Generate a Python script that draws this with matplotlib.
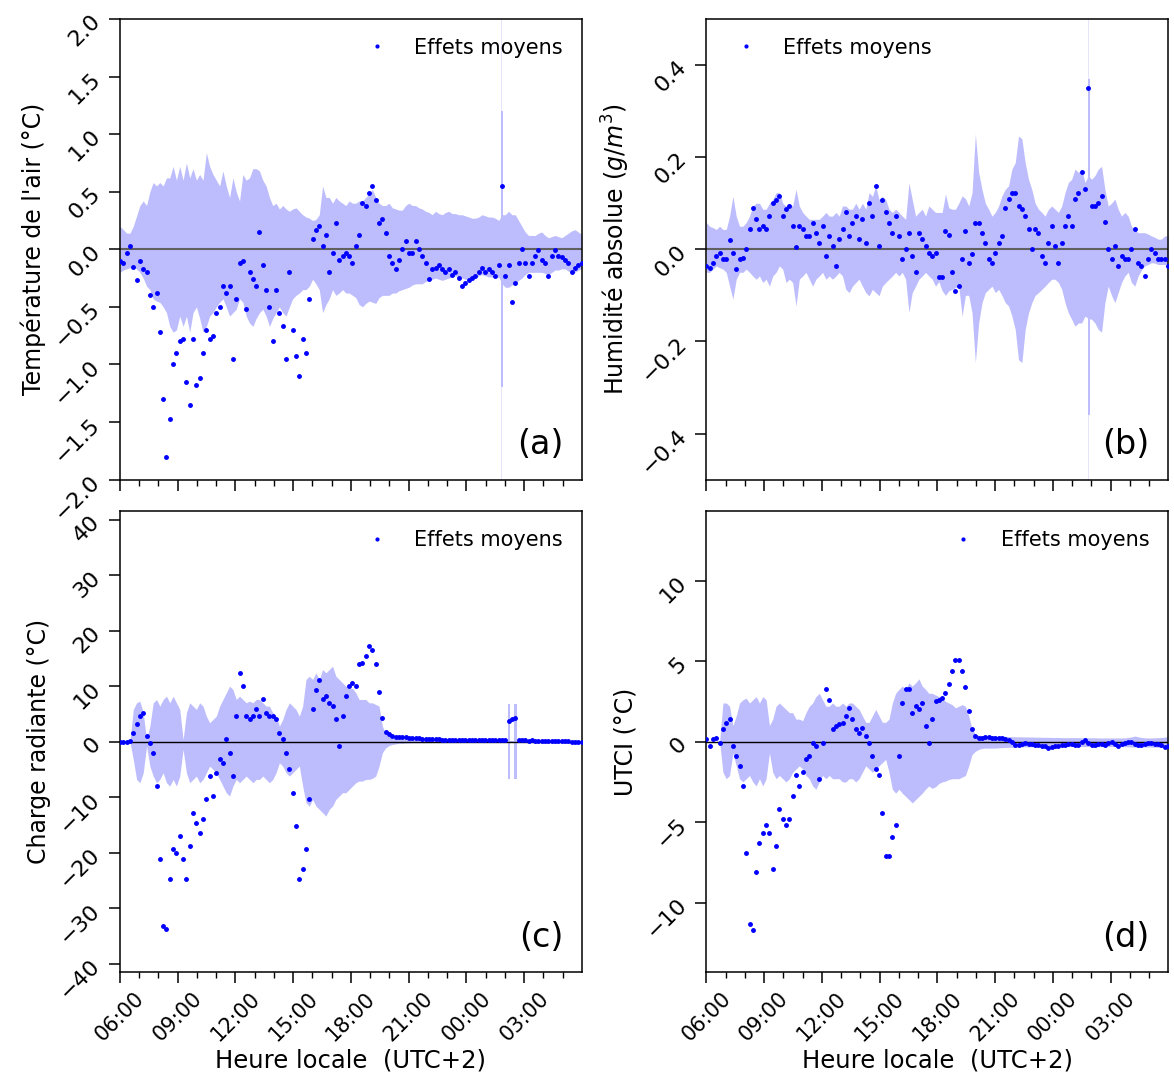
import matplotlib
matplotlib.use("Agg")
import matplotlib.pyplot as plt
import matplotlib.dates as mdates
import pandas as pd

# mean effect + confidence band, 140 samples from 06:00 to 05:59 next day
times = pd.date_range("2020-07-01 06:00", "2020-07-02 05:59", periods=140)

# (a) air temperature (°C)
air_mean = [-0.10, -0.12, -0.03, 0.03, -0.15, -0.27, -0.10, -0.17, -0.20, -0.40,
            -0.50, -0.38, -0.72, -1.30, -1.80, -1.47, -1.00, -0.90, -0.80, -0.78,
            -1.15, -1.35, -0.78, -1.18, -1.12, -0.90, -0.70, -0.78, -0.75, -0.55,
            -0.50, -0.32, -0.38, -0.32, -0.95, -0.43, -0.12, -0.10, -0.52, -0.20,
            -0.26, -0.32, 0.15, -0.14, -0.35, -0.50, -0.80, -0.35, -0.55, -0.67,
            -0.95, -0.20, -0.70, -0.93, -1.10, -0.78, -0.90, -0.43, 0.09, 0.17,
            0.20, 0.03, 0.12, -0.20, -0.03, 0.23, -0.09, -0.06, -0.03, -0.06,
            -0.12, 0.03, 0.12, 0.40, 0.38, 0.49, 0.55, 0.43, 0.23, 0.26,
            0.14, -0.06, -0.12, -0.17, -0.09, 0.00, 0.07, -0.03, -0.03, 0.07,
            0.00, -0.06, -0.12, -0.26, -0.17, -0.16, -0.14, -0.17, -0.20, -0.17,
            -0.22, -0.20, -0.25, -0.32, -0.29, -0.27, -0.25, -0.23, -0.20, -0.16,
            -0.20, -0.17, -0.20, -0.23, -0.14, 0.55, -0.23, -0.14, -0.46, -0.29,
            -0.12, 0.00, -0.12, -0.23, -0.12, -0.06, -0.01, -0.09, -0.12, -0.23,
            -0.06, -0.01, -0.06, -0.07, -0.09, -0.12, -0.20, -0.16, -0.14, -0.12]
air_hi = [0.20, 0.17, 0.14, 0.14, 0.20, 0.29, 0.38, 0.42, 0.38, 0.50,
          0.58, 0.55, 0.58, 0.55, 0.62, 0.62, 0.72, 0.60, 0.72, 0.60,
          0.75, 0.62, 0.70, 0.60, 0.65, 0.60, 0.84, 0.72, 0.65, 0.60,
          0.55, 0.68, 0.55, 0.45, 0.62, 0.50, 0.42, 0.65, 0.60, 0.62,
          0.70, 0.70, 0.68, 0.60, 0.55, 0.45, 0.38, 0.40, 0.35, 0.38,
          0.35, 0.33, 0.35, 0.36, 0.33, 0.30, 0.28, 0.27, 0.25, 0.26,
          0.30, 0.55, 0.45, 0.45, 0.40, 0.45, 0.42, 0.40, 0.38, 0.42,
          0.40, 0.40, 0.42, 0.42, 0.45, 0.48, 0.52, 0.45, 0.40, 0.38,
          0.38, 0.40, 0.36, 0.35, 0.34, 0.34, 0.38, 0.40, 0.38, 0.38,
          0.36, 0.35, 0.33, 0.32, 0.30, 0.33, 0.31, 0.30, 0.32, 0.33,
          0.31, 0.31, 0.30, 0.30, 0.29, 0.28, 0.27, 0.27, 0.28, 0.30,
          0.29, 0.28, 0.28, 0.27, 0.25, 0.30, 0.30, 0.33, 0.30, 0.30,
          0.25, 0.20, 0.15, 0.12, 0.12, 0.12, 0.14, 0.15, 0.12, 0.10,
          0.11, 0.12, 0.11, 0.10, 0.12, 0.14, 0.16, 0.17, 0.15, 0.13]
air_lo = [-0.20, -0.18, -0.17, -0.16, -0.15, -0.17, -0.20, -0.25, -0.32, -0.35,
          -0.43, -0.45, -0.46, -0.50, -0.55, -0.67, -0.72, -0.70, -0.58, -0.67,
          -0.58, -0.72, -0.55, -0.50, -0.60, -0.72, -0.67, -0.58, -0.55, -0.50,
          -0.46, -0.43, -0.50, -0.58, -0.55, -0.52, -0.43, -0.46, -0.58, -0.64,
          -0.67, -0.60, -0.55, -0.52, -0.58, -0.67, -0.60, -0.55, -0.50, -0.55,
          -0.58, -0.50, -0.43, -0.40, -0.38, -0.35, -0.35, -0.32, -0.26, -0.30,
          -0.35, -0.55, -0.48, -0.43, -0.35, -0.40, -0.38, -0.35, -0.38, -0.38,
          -0.40, -0.42, -0.48, -0.50, -0.47, -0.45, -0.46, -0.47, -0.42, -0.40,
          -0.40, -0.40, -0.38, -0.38, -0.36, -0.35, -0.34, -0.33, -0.31, -0.30,
          -0.30, -0.30, -0.28, -0.27, -0.26, -0.25, -0.26, -0.27, -0.26, -0.25,
          -0.24, -0.23, -0.24, -0.25, -0.26, -0.26, -0.25, -0.25, -0.23, -0.22,
          -0.23, -0.24, -0.24, -0.25, -0.24, -0.30, -0.33, -0.33, -0.31, -0.30,
          -0.27, -0.25, -0.22, -0.20, -0.20, -0.20, -0.20, -0.20, -0.21, -0.22,
          -0.20, -0.18, -0.18, -0.17, -0.17, -0.19, -0.20, -0.20, -0.18, -0.17]

# (b) absolute humidity (g/m3)
hum_mean = [-0.036, -0.04, -0.03, -0.015, -0.007, -0.02, -0.02, 0.02, -0.007, -0.043,
            -0.02, -0.018, 0.0, 0.043, 0.09, 0.065, 0.043, 0.05, 0.043, 0.072,
            0.1, 0.108, 0.115, 0.072, 0.087, 0.094, 0.05, 0.004, 0.05, 0.043,
            0.029, 0.029, 0.058, 0.036, 0.014, 0.05, -0.015, 0.029, 0.007, -0.036,
            0.022, 0.043, 0.08, 0.029, 0.058, 0.072, 0.022, 0.065, 0.014, 0.1,
            0.072, 0.137, 0.007, 0.108, 0.08, 0.058, 0.036, 0.072, 0.029, -0.02,
            0.0, 0.036, -0.015, -0.05, 0.036, 0.022, 0.007, -0.007, -0.015, -0.007,
            -0.06, -0.06, 0.04, 0.03, -0.05, -0.09, -0.08, -0.02, 0.04, -0.03,
            -0.01, 0.058, 0.058, 0.036, 0.014, -0.022, -0.029, -0.007, 0.014, 0.029,
            0.09, 0.109, 0.123, 0.123, 0.094, 0.087, 0.072, 0.043, 0.0, 0.043,
            0.036, -0.014, -0.029, 0.014, 0.05, 0.007, -0.029, 0.014, 0.05, 0.072,
            0.05, 0.109, 0.123, 0.167, 0.13, 0.35, 0.094, 0.094, 0.1, 0.116,
            0.06, 0.0, -0.022, 0.007, -0.036, -0.014, -0.022, -0.022, 0.0, 0.043,
            -0.029, -0.036, -0.058, -0.022, 0.0, -0.007, -0.022, -0.022, -0.022, -0.036]
hum_hi = [0.058, 0.05, 0.047, 0.043, 0.05, 0.043, 0.043, 0.072, 0.115, 0.072,
          0.05, 0.05, 0.058, 0.072, 0.094, 0.1, 0.1, 0.087, 0.087, 0.1,
          0.108, 0.123, 0.123, 0.1, 0.094, 0.1, 0.094, 0.13, 0.094, 0.08,
          0.072, 0.065, 0.065, 0.065, 0.065, 0.072, 0.08, 0.072, 0.072, 0.08,
          0.072, 0.094, 0.094, 0.087, 0.087, 0.1, 0.087, 0.1, 0.087, 0.123,
          0.115, 0.137, 0.108, 0.115, 0.108, 0.087, 0.08, 0.087, 0.08, 0.072,
          0.065, 0.144, 0.108, 0.072, 0.08, 0.087, 0.072, 0.094, 0.087, 0.08,
          0.08, 0.08, 0.12, 0.09, 0.087, 0.087, 0.1, 0.116, 0.11, 0.094,
          0.123, 0.25, 0.167, 0.13, 0.1, 0.087, 0.072, 0.08, 0.094, 0.116,
          0.13, 0.138, 0.174, 0.188, 0.246, 0.24, 0.188, 0.152, 0.13, 0.1,
          0.087, 0.08, 0.072, 0.087, 0.094, 0.087, 0.08, 0.094, 0.123, 0.145,
          0.152, 0.174, 0.167, 0.174, 0.145, 0.16, 0.152, 0.16, 0.174, 0.18,
          0.13, 0.094, 0.1, 0.109, 0.087, 0.072, 0.08, 0.072, 0.05, 0.043,
          0.036, 0.036, 0.036, 0.033, 0.029, 0.026, 0.022, 0.022, 0.029, 0.029]
hum_lo = [-0.05, -0.05, -0.043, -0.036, -0.04, -0.043, -0.05, -0.08, -0.108, -0.065,
          -0.05, -0.05, -0.043, -0.05, -0.058, -0.065, -0.058, -0.072, -0.065, -0.08,
          -0.058, -0.05, -0.036, -0.043, -0.072, -0.065, -0.072, -0.123, -0.065, -0.058,
          -0.05, -0.065, -0.08, -0.065, -0.058, -0.05, -0.065, -0.058, -0.065, -0.058,
          -0.05, -0.058, -0.087, -0.094, -0.08, -0.072, -0.065, -0.08, -0.094, -0.101,
          -0.087, -0.094, -0.101, -0.08, -0.072, -0.065, -0.058, -0.05, -0.058, -0.05,
          -0.065, -0.137, -0.094, -0.08, -0.065, -0.058, -0.05, -0.058, -0.065, -0.08,
          -0.07, -0.09, -0.1, -0.09, -0.087, -0.083, -0.08, -0.145, -0.1, -0.1,
          -0.138, -0.246, -0.16, -0.116, -0.094, -0.087, -0.08, -0.094, -0.087, -0.1,
          -0.116, -0.123, -0.145, -0.174, -0.24, -0.246, -0.174, -0.138, -0.116, -0.1,
          -0.094, -0.087, -0.08, -0.072, -0.065, -0.065, -0.072, -0.087, -0.116, -0.138,
          -0.152, -0.167, -0.16, -0.16, -0.145, -0.15, -0.152, -0.16, -0.174, -0.18,
          -0.116, -0.08, -0.1, -0.116, -0.094, -0.072, -0.058, -0.05, -0.072, -0.08,
          -0.058, -0.045, -0.036, -0.033, -0.029, -0.03, -0.033, -0.033, -0.033, -0.033]

# (c) radiant load (°C)
rad_mean = [0.0, 0.0, 0.0, 0.1, 1.6, 3.1, 4.6, 5.2, 1.0, -0.2,
            -2.0, -8.0, -21.2, -33.2, -33.8, -24.8, -19.4, -20.0, -17.0, -21.2,
            -24.8, -18.8, -12.8, -14.6, -16.4, -14.0, -10.4, -6.2, -9.8, -5.6,
            -3.2, -3.8, 0.4, -2.0, -6.2, 4.6, 12.4, 10.0, 4.6, 4.0,
            4.6, 5.8, 4.6, 7.6, 5.2, 4.6, 4.6, 4.0, 1.6, 0.4,
            -2.0, -5.0, -9.2, -15.2, -24.8, -23.0, -19.4, -10.4, 5.8, 9.4,
            11.2, 7.6, 8.2, 7.0, 6.4, 4.0, -0.8, 4.6, 8.2, 10.0,
            10.6, 10.0, 14.0, 14.2, 15.4, 17.2, 16.6, 14.0, 9.0, 4.2,
            1.8, 1.3, 1.0, 0.9, 0.9, 0.8, 0.8, 0.75, 0.7, 0.7,
            0.6, 0.55, 0.5, 0.45, 0.45, 0.4, 0.4, 0.38, 0.36, 0.34,
            0.3, 0.28, 0.3, 0.26, 0.25, 0.3, 0.28, 0.25, 0.28, 0.3,
            0.33, 0.3, 0.28, 0.27, 0.35, 0.3, 0.28, 3.8, 4.0, 4.2,
            0.25, 0.25, 0.22, 0.2, 0.25, 0.2, 0.18, 0.2, 0.2, 0.2,
            0.2, 0.15, 0.2, 0.15, 0.1, 0.05, 0.0, -0.1, -0.15, -0.15]
rad_hi = [0.0, 0.0, 0.0, 0.0, 5.8, 7.0, 7.3, 5.2, 0.4, 2.8,
          7.0, 7.6, 6.4, 7.6, 8.2, 7.0, 8.2, 7.0, 5.8, 0.4,
          5.2, 7.0, 6.4, 5.8, 7.0, 6.4, 4.6, 3.4, 4.0, 4.6,
          6.4, 7.6, 8.8, 10.0, 9.4, 7.6, 8.2, 7.6, 7.0, 7.3,
          7.0, 7.6, 7.6, 7.0, 6.4, 6.4, 5.2, 4.6, 2.8, 4.0,
          5.8, 7.0, 6.4, 5.8, 4.6, 6.4, 11.2, 11.8, 11.2, 12.4,
          11.2, 13.0, 12.4, 13.0, 13.6, 11.8, 11.2, 10.6, 10.0, 9.6,
          9.6, 8.8, 7.6, 7.6, 7.6, 7.0, 7.0, 6.7, 6.4, 2.8,
          1.3, 1.0, 0.7, 0.6, 0.5, 0.5, 0.45, 0.4, 0.38, 0.35,
          0.35, 0.33, 0.32, 0.3, 0.3, 0.3, 0.28, 0.28, 0.27, 0.27,
          0.26, 0.26, 0.25, 0.25, 0.25, 0.25, 0.24, 0.24, 0.24, 0.24,
          0.23, 0.23, 0.23, 0.22, 0.22, 0.22, 0.22, 0.22, 0.21, 0.21,
          0.21, 0.2, 0.2, 0.2, 0.2, 0.2, 0.19, 0.19, 0.19, 0.18,
          0.18, 0.18, 0.17, 0.17, 0.16, 0.16, 0.15, 0.15, 0.14, 0.14]
rad_lo = [0.0, 0.0, 0.0, 0.0, -3.2, -6.8, -7.4, -5.6, -0.8, -4.4,
          -6.2, -7.4, -6.8, -5.6, -7.4, -8.0, -6.8, -8.0, -6.2, -1.4,
          -5.6, -7.4, -6.8, -6.2, -7.4, -6.8, -5.6, -4.4, -5.0, -5.6,
          -6.8, -8.0, -9.2, -9.8, -8.0, -6.8, -7.4, -6.8, -6.2, -6.8,
          -7.4, -6.8, -6.8, -6.2, -6.8, -7.4, -6.8, -5.6, -3.8, -4.4,
          -5.6, -6.2, -5.6, -5.0, -4.4, -8.0, -11.0, -11.6, -10.4, -11.6,
          -12.2, -12.8, -13.4, -12.2, -11.6, -10.4, -9.8, -9.2, -9.2, -8.6,
          -8.0, -7.4, -7.1, -7.1, -6.8, -6.8, -6.6, -6.2, -4.4, -2.0,
          -1.1, -0.7, -0.5, -0.4, -0.3, -0.3, -0.25, -0.22, -0.2, -0.2,
          -0.2, -0.19, -0.19, -0.18, -0.18, -0.18, -0.17, -0.17, -0.17, -0.16,
          -0.16, -0.16, -0.16, -0.15, -0.15, -0.15, -0.15, -0.15, -0.14, -0.14,
          -0.14, -0.14, -0.14, -0.14, -0.13, -0.13, -0.13, -0.13, -0.13, -0.13,
          -0.13, -0.12, -0.12, -0.12, -0.12, -0.12, -0.12, -0.12, -0.12, -0.13,
          -0.13, -0.13, -0.14, -0.15, -0.16, -0.18, -0.2, -0.25, -0.28, -0.3]

# (d) UTCI (°C)
utci_mean = [0.15, -0.27, 0.15, 0.25, -0.06, 0.77, 1.18, 1.39, -0.27, -0.9,
             -1.5, -2.75, -6.9, -11.3, -11.7, -8.1, -6.3, -5.65, -5.2, -5.65,
             -7.9, -6.5, -4.2, -4.8, -5.2, -4.8, -3.4, -2.1, -2.75, -1.9,
             -1.1, -0.9, -0.06, -0.27, -2.3, -0.06, 3.25, 2.6, 0.77, 0.97,
             1.08, 1.18, 1.6, 2.1, 1.4, 0.77, 0.56, 0.87, 0.35, -0.06,
             -0.9, -1.7, -2.1, -4.4, -7.1, -7.1, -5.9, -5.2, -0.9, 2.4,
             3.25, 3.25, 1.8, 2.2, 2.0, 2.4, 0.97, -0.06, 1.4, 2.5,
             2.6, 2.7, 3.0, 3.6, 4.4, 5.1, 5.1, 4.4, 3.4, 1.9,
             0.8, 0.35, 0.2, 0.22, 0.28, 0.3, 0.25, 0.22, 0.22, 0.2,
             0.18, 0.1, 0.0, -0.2, -0.22, -0.12, -0.1, -0.15, -0.17, -0.2,
             -0.23, -0.26, -0.3, -0.4, -0.33, -0.28, -0.25, -0.22, -0.19, -0.17,
             -0.15, -0.2, -0.23, -0.05, 0.1, -0.1, -0.23, -0.2, -0.15, -0.17,
             -0.19, -0.1, -0.02, -0.15, -0.27, -0.15, -0.1, -0.05, -0.02, -0.15,
             -0.23, -0.2, -0.17, -0.1, -0.06, -0.12, -0.17, -0.2, -0.31, -0.3]
utci_hi = [0.0, 0.0, 0.0, 0.0, 0.0, 2.4, 2.4, 2.2, 1.0, 1.6,
           2.4, 2.6, 2.7, 2.4, 2.6, 2.8, 2.4, 2.8, 2.6, 1.0,
           1.4, 2.2, 2.4, 2.2, 2.0, 1.8, 1.8, 1.4, 1.4, 1.3,
           1.8, 2.2, 2.4, 2.8, 3.0, 2.6, 2.2, 2.2, 2.4, 2.2,
           2.2, 2.4, 2.2, 2.4, 2.4, 2.2, 2.0, 1.6, 1.2, 1.2,
           1.6, 2.0, 1.6, 1.2, 1.2, 1.4, 2.4, 3.0, 3.25, 3.45,
           3.25, 3.65, 3.45, 3.65, 3.9, 3.45, 3.25, 3.0, 3.0, 2.9,
           2.8, 2.7, 2.5, 2.4, 2.3, 2.1, 2.2, 2.3, 2.2, 1.6,
           0.8, 0.45, 0.4, 0.38, 0.35, 0.35, 0.35, 0.35, 0.35, 0.35,
           0.33, 0.32, 0.31, 0.3, 0.3, 0.3, 0.29, 0.29, 0.29, 0.28,
           0.28, 0.27, 0.27, 0.27, 0.26, 0.26, 0.26, 0.25, 0.25, 0.25,
           0.25, 0.25, 0.25, 0.24, 0.24, 0.24, 0.24, 0.24, 0.23, 0.23,
           0.23, 0.23, 0.23, 0.23, 0.23, 0.23, 0.24, 0.26, 0.3, 0.35,
           0.3, 0.26, 0.24, 0.23, 0.23, 0.24, 0.25, 0.26, 0.28, 0.3]
utci_lo = [0.0, 0.0, 0.0, 0.0, 0.0, -1.9, -2.3, -2.1, -0.7, -1.5,
           -2.3, -2.5, -2.3, -2.1, -2.5, -2.75, -2.3, -2.75, -2.3, -0.7,
           -1.9, -2.3, -2.1, -2.3, -2.5, -2.3, -1.9, -1.7, -1.5, -1.7,
           -2.1, -2.3, -2.75, -2.95, -2.5, -2.1, -2.3, -2.1, -2.3, -2.3,
           -2.3, -2.5, -2.5, -2.3, -2.3, -2.5, -2.3, -1.9, -1.5, -1.7,
           -1.9, -1.7, -1.5, -1.3, -1.1, -1.9, -2.95, -3.2, -2.95, -3.2,
           -3.4, -3.6, -3.8, -3.6, -3.4, -3.2, -2.95, -2.75, -2.9, -2.8,
           -2.6, -2.5, -2.45, -2.35, -2.3, -2.3, -2.3, -2.2, -2.1, -1.5,
           -0.8, -0.6, -0.48, -0.42, -0.4, -0.4, -0.4, -0.4, -0.38, -0.37,
           -0.36, -0.35, -0.35, -0.34, -0.33, -0.33, -0.32, -0.32, -0.32, -0.31,
           -0.31, -0.31, -0.31, -0.3, -0.3, -0.3, -0.3, -0.3, -0.3, -0.3,
           -0.3, -0.3, -0.3, -0.3, -0.3, -0.3, -0.3, -0.31, -0.31, -0.31,
           -0.31, -0.31, -0.3, -0.3, -0.3, -0.31, -0.31, -0.32, -0.33, -0.34,
           -0.34, -0.33, -0.33, -0.33, -0.34, -0.34, -0.35, -0.36, -0.38, -0.4]

# short bursts of very wide band (few samples): faint outer part first, then core
spike_a_t0 = ["2020-07-02 01:48:30", "2020-07-02 01:47"]
spike_a_t1 = ["2020-07-02 01:51:30", "2020-07-02 01:53"]
spike_a_hi = [2.5, 1.2]
spike_a_lo = [-2.5, -1.2]

spike_b_t0 = ["2020-07-02 01:50:30", "2020-07-02 01:49"]
spike_b_t1 = ["2020-07-02 01:53:30", "2020-07-02 01:55"]
spike_b_hi = [0.6, 0.37]
spike_b_lo = [-0.6, -0.36]

spike_c_t0 = ["2020-07-02 02:10", "2020-07-02 02:29"]
spike_c_t1 = ["2020-07-02 02:17", "2020-07-02 02:36"]
spike_c_hi = [6.7, 6.7]
spike_c_lo = [-6.8, -6.8]

band_color = "#bdbdfd"
faint_color = "#e4e4fd"

fig, axes = plt.subplots(2, 2, figsize=(11.74, 10.79), dpi=100, sharex=True)
fig.subplots_adjust(left=0.1022, right=0.9949, bottom=0.0992, top=0.9824,
                    wspace=0.27, hspace=0.069)

panels = [
    (axes[0, 0], air_mean, air_hi, air_lo, (spike_a_t0, spike_a_t1, spike_a_hi, spike_a_lo),
     "Température de l'air (°C)", (-2, 2), [-2, -1.5, -1, -0.5, 0, 0.5, 1, 1.5, 2], "(a)", "upper right"),
    (axes[0, 1], hum_mean, hum_hi, hum_lo, (spike_b_t0, spike_b_t1, spike_b_hi, spike_b_lo),
     "Humidité absolue ($g/m^3$)", (-0.5, 0.5), [-0.4, -0.2, 0, 0.2, 0.4], "(b)", "upper left"),
    (axes[1, 0], rad_mean, rad_hi, rad_lo, (spike_c_t0, spike_c_t1, spike_c_hi, spike_c_lo),
     "Charge radiante (°C)", (-41.5, 41.5), [-40, -30, -20, -10, 0, 10, 20, 30, 40], "(c)", "upper right"),
    (axes[1, 1], utci_mean, utci_hi, utci_lo, None,
     "UTCI (°C)", (-14.3, 14.3), [-10, -5, 0, 5, 10], "(d)", "upper right"),
]

for i, (ax, mean, hi, lo, spikes, ylabel, ylim, yticks, tag, loc) in enumerate(panels):
    ax.fill_between(times, lo, hi, color=band_color, lw=0, zorder=1)
    if spikes is not None:
        for j, (t0, t1, h, l) in enumerate(zip(*spikes)):
            col = faint_color if (i < 2 and j == 0) else band_color
            ax.fill_between(pd.to_datetime([t0, t1]), [l, l], [h, h],
                            color=col, lw=0, zorder=1)
    if i < 2:
        ax.axhline(0, color="#606060", lw=1.5, zorder=2)
    else:
        ax.axhline(0, color="black", lw=1.0, zorder=2)
    ax.plot(times, mean, ".", color="blue", ms=5, label="Effets moyens", zorder=3)

    ax.set_ylim(*ylim)
    ax.set_yticks(yticks)
    ax.set_ylabel(ylabel, fontsize=17)
    ax.legend(loc=loc, frameon=False, fontsize=15, markerscale=0.8)
    ax.text(0.96, 0.04, tag, transform=ax.transAxes, ha="right", va="bottom", fontsize=24)

    ax.tick_params(axis="both", which="major", length=8, width=1.1, labelrotation=45)
    ax.tick_params(axis="x", which="major", labelsize=15)
    ax.tick_params(axis="y", which="major", labelsize=16)
    ax.tick_params(axis="x", which="minor", length=4, width=1.0)
    for sp in ax.spines.values():
        sp.set_linewidth(1.1)

    if i >= 2:
        ax.set_xlabel("Heure locale  (UTC+2)", fontsize=17.5, labelpad=3)

ax = axes[1, 0]
ax.xaxis.set_major_locator(mdates.HourLocator(byhour=range(0, 24, 3)))
ax.xaxis.set_minor_locator(mdates.HourLocator())
ax.xaxis.set_major_formatter(mdates.DateFormatter("%H:%M"))
ax.set_xlim(times[0], times[-1])

fig.savefig("out.png", dpi=100)
